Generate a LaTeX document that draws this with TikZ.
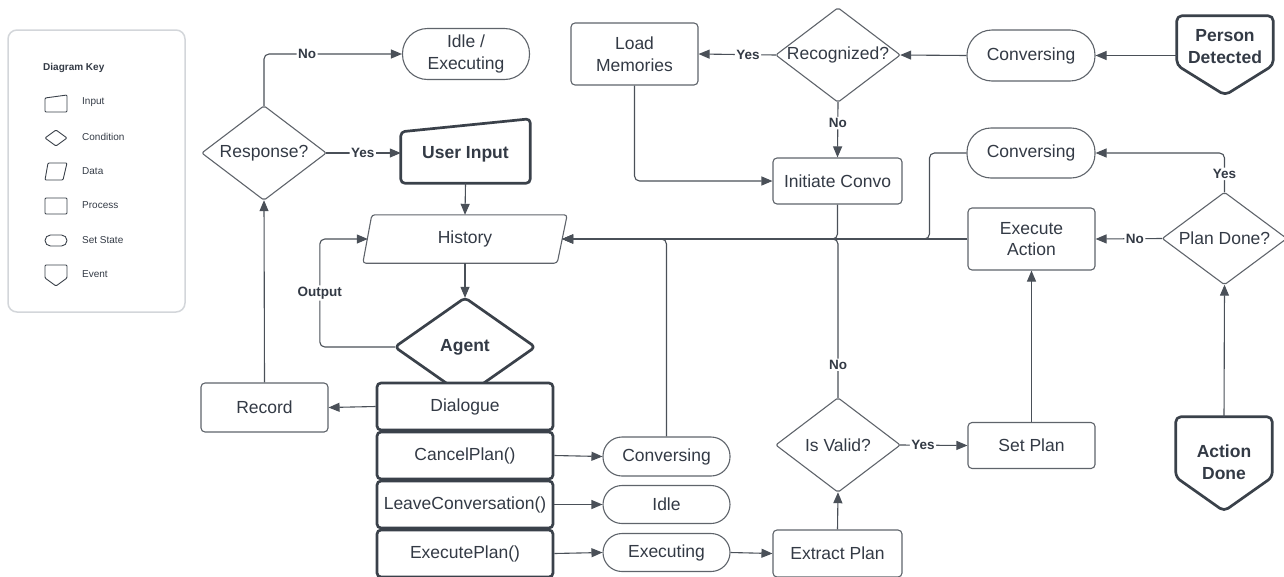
\documentclass[tikz,border=0pt]{standalone}
\usepackage{fontspec}
\setmainfont{Liberation Sans}
\usetikzlibrary{arrows.meta,calc}

\definecolor{ink}{HTML}{3A414A}
\definecolor{txt}{HTML}{333A45}
\definecolor{shapeedge}{HTML}{5F646B}
\definecolor{wire}{HTML}{4A5058}
\definecolor{keyedge}{HTML}{D3D6DA}

% outline of a condition (diamond) through the four side anchors of a node
\newcommand\condoutline[2]{\draw[#2] (#1.north) -- (#1.east) -- (#1.south) -- (#1.west) -- cycle;}
% outline of an event shape: box with a point at the bottom, #2 = depth of the point
\newcommand\eventoutline[2]{\draw[thickline, rounded corners=5pt] (#1.north west) -- (#1.north east) -- ($(#1.south east)+(0,-#2)$) -- (#1.south) -- ($(#1.south west)+(0,-#2)$) -- cycle;}

\begin{document}
\begin{tikzpicture}[x=1pt,y=-1pt,
  every node/.style={text=txt, inner sep=0pt},
  base/.style={font=\fontsize{17.5}{21.5}\selectfont, align=center},
  bold/.style={font=\fontsize{17.5}{21.5}\selectfont\bfseries, align=center},
  proc/.style={base, draw=shapeedge, line width=1.1pt, fill=white, rounded corners=4pt, minimum width=127pt},
  heavy/.style={base, draw=ink, line width=2.7pt, fill=white, rounded corners=4pt, minimum width=176pt, minimum height=47pt},
  state/.style={base, draw=shapeedge, line width=1.1pt, fill=white, rounded corners=19pt, minimum width=127pt, minimum height=39pt},
  cond/.style={base, minimum width=124pt, minimum height=94pt},
  thinline/.style={draw=shapeedge, line width=1.1pt, rounded corners=2pt, line join=round},
  thickline/.style={draw=ink, line width=2.7pt, rounded corners=4pt, line join=round},
  arr/.style={draw=wire, line width=1.1pt, rounded corners=5pt, -{Triangle[length=11pt,width=9pt]}},
  lbl/.style={font=\fontsize{13.5}{16}\selectfont\bfseries, fill=white, inner sep=1.5pt},
  keytext/.style={font=\fontsize{10}{12}\selectfont, anchor=west},
  keyicon/.style={draw=ink, line width=0.9pt, rounded corners=1pt},
]
\useasboundingbox (0,0) rectangle (1284,576);

% ---------- legend ----------
\node[draw=keyedge, line width=1.5pt, rounded corners=9pt, minimum width=177pt, minimum height=282pt] (keybox) at (96.5,171) {};
\node[keytext, font=\fontsize{10}{12}\selectfont\bfseries] (keytitle) at (43,68) {Diagram Key};
\draw[keyicon] (45,98) -- (67,95) -- (67,112) -- (45,112) -- cycle;
\node[keytext] (kinput) at (82,102) {Input};
\draw[keyicon] (45,138) -- (56,130) -- (67,138) -- (56,146) -- cycle;
\node[keytext] (kcond) at (82,137) {Condition};
\draw[keyicon] (48,163) -- (67,163) -- (63,180) -- (45,180) -- cycle;
\node[keytext] (kdata) at (82,171) {Data};
\draw[keyicon] (45,198) rectangle (67,214);
\node[keytext] (kproc) at (82,205) {Process};
\draw[keyicon, rounded corners=5.5pt] (45,235) rectangle (67,246);
\node[keytext] (kstate) at (82,240) {Set State};
\draw[keyicon] (45,265) -- (67,265) -- (67,278) -- (56,286) -- (45,278) -- cycle;
\node[keytext] (kevent) at (82,274) {Event};

% ---------- left column ----------
\node[cond] (resp) at (264,153) {Response?};
\condoutline{resp}{thinline}
\node[state, minimum height=51pt, rounded corners=25pt] (idleexec) at (466,54) {Idle /\\Executing};
\node[bold, minimum width=129pt, minimum height=58pt] (uin) at (465.5,154) {User Input};
\draw[thickline] ($(uin.north west)+(0,7)$) -- ($(uin.north east)+(0,-6)$) -- (uin.south east) -- (uin.south west) -- cycle;
\node[base, minimum width=194pt, minimum height=48pt] (hist) at (465,239) {History};
\draw[thinline, rounded corners=3pt] ($(hist.north west)+(4,0)$) -- ($(hist.north east)+(5,0)$) -- ($(hist.south east)+(-5,0)$) -- ($(hist.south west)+(-5,0)$) -- cycle;
\node[bold, minimum width=140pt, minimum height=98pt] (agent) at (465,347) {Agent};
\condoutline{agent}{thickline}

\node[heavy] (dlg) at (465,406.5) {Dialogue};
\node[heavy] (cancel) at (465,455.5) {CancelPlan()};
\node[heavy] (leave) at (465,504.5) {LeaveConversation()};
\node[heavy] (execplan) at (465,553.5) {ExecutePlan()};

\node[proc, minimum height=49pt] (record) at (264.5,407.5) {Record};
\node[state] (conv3) at (666.5,456.5) {Conversing};
\node[state, minimum height=38pt] (idle) at (666.5,504.5) {Idle};
\node[state, minimum height=38pt] (exec) at (666.5,552.5) {Executing};

% ---------- middle and right ----------
\node[proc, minimum width=129pt, minimum height=47pt] (extract) at (837.5,553.5) {Extract Plan};
\node[cond] (valid) at (838,445) {Is Valid?};
\condoutline{valid}{thinline}
\node[proc, minimum height=46pt] (setplan) at (1031.5,445.5) {Set Plan};
\node[proc, minimum height=62pt] (execact) at (1031.5,239) {Execute\\Action};
\node[cond, minimum height=92pt] (plandone) at (1224.5,238.5) {Plan Done?};
\condoutline{plandone}{thinline}
\node[minimum width=96pt, minimum height=94pt] (actdone) at (1224,464) {};
\eventoutline{actdone}{34}
\node[bold] (actdonetext) at (1224,462) {Action\\Done};

\node[state, minimum width=128pt, minimum height=50pt, rounded corners=24pt] (conv2) at (1031,153) {Conversing};
\node[minimum width=96pt, minimum height=79pt] (pd) at (1225,55.5) {};
\eventoutline{pd}{30}
\node[bold] (pdtext) at (1225,46.5) {Person\\Detected};
\node[state, minimum width=128pt, minimum height=51pt, rounded corners=25pt] (conv1) at (1031,55.5) {Conversing};
\node[cond] (recog) at (838,55) {Recognized?};
\condoutline{recog}{thinline}
\node[proc, minimum height=62pt] (loadmem) at (634.5,54) {Load\\Memories};
\node[proc, minimum width=129pt, minimum height=46pt] (initconvo) at (837.5,181) {Initiate Convo};

% ---------- connectors ----------
\draw[arr] (pd.west) -- (conv1.east);
\draw[arr] (conv1.west) -- (recog.east);
\draw[arr] (recog.west) -- node[lbl, pos=0.36] {Yes} (loadmem.east);
\draw[arr] (recog.south) -- node[lbl, pos=0.38] {No} (initconvo.north);
\draw[arr] (loadmem.south) |- (initconvo.west);

\draw[arr] (initconvo.south) |- (hist.east);
\draw[arr] (valid.north) |- node[lbl, pos=0.104] {No} (hist.east);
\draw[arr] (execact.west) -- (hist.east);
\draw[arr] (conv2.west) -- ++(-37,0) |- (hist.east);
\draw[arr] (conv3.north) |- (hist.east);

\draw[arr] (plandone.west) -- node[lbl, pos=0.41] {No} (execact.east);
\draw[arr] (plandone.north) |- node[lbl, pos=0.234] {Yes} (conv2.east);
\draw[arr] (actdone.north) -- (plandone.south);
\draw[arr] (setplan.north) -- (execact.south);
\draw[arr] (valid.east) -- node[lbl, pos=0.34] {Yes} (setplan.west);
\draw[arr] (extract.north) -- (valid.south);
\draw[arr] (exec.east) -- (extract.west);

\draw[arr] (execplan.east) -- (exec.west);
\draw[arr] (leave.east) -- (idle.west);
\draw[arr] (cancel.east) -- (conv3.west);
\draw[arr] (dlg.west) -- (record.east);
\draw[arr] (record.north) -- (resp.south);
\draw[arr] (resp.east) -- node[lbl, pos=0.49] {Yes} (resp.east -| uin.west);
\draw[arr] (resp.north) |- node[lbl, pos=0.656] {No} (idleexec.west);
\draw[arr] (uin.south) -- (hist.north);
\draw[arr] (hist.south) -- (agent.north);
\draw[arr] (agent.west) -- ++(-75,0) |- node[lbl, pos=0.25] {Output} (hist.west);
\end{tikzpicture}
\end{document}
